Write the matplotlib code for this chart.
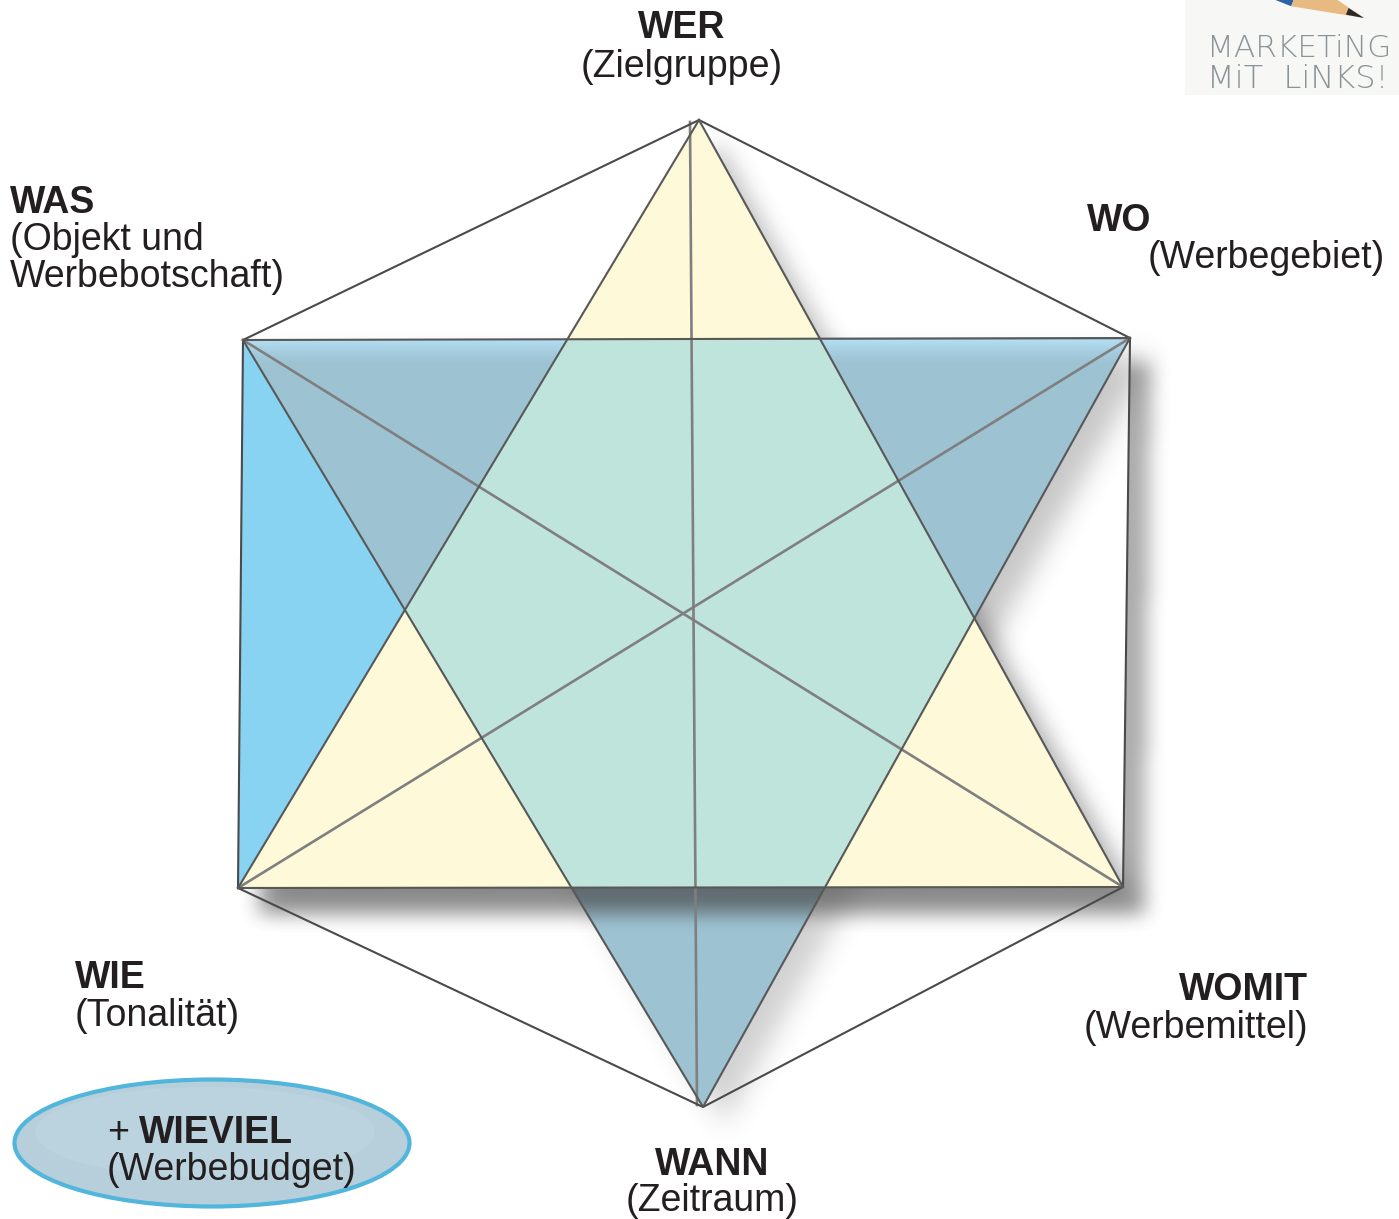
import numpy as np
import matplotlib
matplotlib.use("Agg")
from matplotlib import pyplot as plt
from matplotlib.patches import Polygon, Ellipse, Rectangle
from matplotlib.path import Path

W, H = 1399, 1219

# corner points of the diagram (pixel coords, y down)
top = (699, 120)
tl = (243, 340)
tr = (1130, 338)
bl = (238, 888)
br = (1123, 887)
bottom = (703, 1107)
axis_line = [(690, 122), (697, 1105)]

yellow_tri = [top, bl, br]
blue_tri = [tl, tr, bottom]
rect = [tl, tr, br, bl]
hexagon = [top, tr, br, bottom, bl, tl, top]

# labels: (bold, normal, x, baseline y of bold, baseline y of normal, x of normal, align)
labels = [
    ("WER", "(Zielgruppe)", 682, 38, 77, 682, "center"),
    ("WO", "(Werbegebiet)", 1087, 231, 268, 1148, "left"),
    ("WIE", "(Tonalität)", 75, 988, 1026, 75, "left"),
    ("WOMIT", "(Werbemittel)", 1308, 1000, 1038, 1308, "right"),
    ("WANN", "(Zeitraum)", 712, 1175, 1211, 712, "center"),
]
was_lines = ["(Objekt und", "Werbebotschaft)"]

C_YELLOW = "#fef9d8"
C_MINT = "#bfe4dc"
C_BLUE = "#9dc3d3"
C_BRIGHT = "#88d3f2"
C_TEXT = "#231f20"


def intersect(p1, p2, p3, p4):
    x1, y1 = p1; x2, y2 = p2; x3, y3 = p3; x4, y4 = p4
    d = (x1 - x2) * (y3 - y4) - (y1 - y2) * (x3 - x4)
    t = ((x1 - x3) * (y3 - y4) - (y1 - y3) * (x3 - x4)) / d
    return (x1 + t * (x2 - x1), y1 + t * (y2 - y1))


def box(a, r, axis):
    a = np.moveaxis(a, axis, 0)
    pad = np.pad(a, ((r + 1, r),) + ((0, 0),) * (a.ndim - 1), mode="edge")
    c = np.cumsum(pad, axis=0)
    out = (c[2 * r + 1:] - c[:-2 * r - 1]) / (2 * r + 1)
    return np.moveaxis(out, 0, axis)


ys, xs = np.mgrid[0:H:2, 0:W:2] + 1
pts = np.column_stack([xs.ravel(), ys.ravel()])


def shadow(ax, polys, dx, dy, r, alpha, z, clip=None, grey=0.28):
    m = np.zeros(len(pts), bool)
    for p in polys:
        m |= Path(np.array(p, float) + [dx, dy]).contains_points(pts)
    m = m.reshape(xs.shape).astype(float)
    for _ in range(3):
        m = box(m, r, 0)
        m = box(m, r, 1)
    rgba = np.zeros(m.shape + (4,))
    rgba[..., :3] = grey
    rgba[..., 3] = m * alpha
    im = ax.imshow(rgba, extent=(0, W, H, 0), zorder=z, interpolation="bilinear", aspect="auto")
    if clip is not None:
        im.set_clip_path(clip)
    return im


fig = plt.figure(figsize=(W / 100, H / 100), dpi=100)
ax = fig.add_axes([0, 0, 1, 1])
ax.set_xlim(0, W)
ax.set_ylim(H, 0)
ax.axis("off")

# shadows on the white page
shadow(ax, [rect], 22, 26, 4, 0.45, 1)
shadow(ax, [yellow_tri], 20, 22, 5, 0.35, 1)
shadow(ax, [blue_tri], 22, 18, 6, 0.25, 1)

# blue triangle, with the rectangle's shadow falling on its lower tip
blue_full = Polygon(blue_tri, closed=True, fc=C_BLUE, ec="none", zorder=2)
ax.add_patch(blue_full)
shadow(ax, [rect, yellow_tri], 22, 26, 4, 0.7, 3, clip=blue_full)

# white rectangle and the shadows cast on it
rect_patch = Polygon(rect, closed=True, fc="white", ec="none", zorder=4)
ax.add_patch(rect_patch)
shadow(ax, [blue_tri], 22, 18, 6, 0.3, 5, clip=rect_patch)
shadow(ax, [yellow_tri], 18, 18, 5, 0.45, 5, clip=rect_patch)

# coloured areas
ax.add_patch(Polygon(yellow_tri, closed=True, fc=C_YELLOW, ec="none", zorder=6))
p_left = intersect(tl, bottom, bl, top)
ax.add_patch(Polygon([tl, bl, p_left], closed=True, fc=C_BRIGHT, ec="none", zorder=6))
blue_in = Polygon(blue_tri, closed=True, fc=C_BLUE, ec="none", zorder=6.1)
ax.add_patch(blue_in)
blue_in.set_clip_path(rect_patch)

# light top band fading downwards
g = np.linspace(1, 0, 40) ** 1.5
band = np.zeros((40, 2, 4))
band[..., 0] = 0.72
band[..., 1] = 0.89
band[..., 2] = 0.97
band[..., 3] = (0.85 * g)[:, None]
im = ax.imshow(band, extent=(tl[0], tr[0], tl[1] + 26, tl[1]), zorder=6.2,
               interpolation="bilinear", aspect="auto")
im.set_clip_path(blue_in)

yel_clip = Polygon(yellow_tri, closed=True, fc="none", ec="none", zorder=0)
ax.add_patch(yel_clip)
mint = Polygon(blue_tri, closed=True, fc=C_MINT, ec="none", zorder=6.3)
ax.add_patch(mint)
mint.set_clip_path(yel_clip)

# outlines
hx, hy = zip(*hexagon)
ax.plot(hx, hy, color="#4a4a4a", lw=1.5, zorder=8)
for tri in (yellow_tri, blue_tri):
    t = tri + [tri[0]]
    tx, ty = zip(*t)
    ax.plot(tx, ty, color="#585858", lw=1.5, zorder=8)
for a, b in [(tl, br), (tr, bl), tuple(axis_line)]:
    ax.plot([a[0], b[0]], [a[1], b[1]], color="#7f7f7f", lw=1.9, zorder=7)

# labels
fs = 27
for bold, normal, x, yb, yn, xn, ha in labels:
    ax.text(x, yb, bold, fontsize=fs, fontweight="bold", ha=ha, va="baseline",
            family="Liberation Sans", color=C_TEXT, zorder=10)
    ax.text(xn, yn, normal, fontsize=fs, ha=ha, va="baseline",
            family="Liberation Sans", color=C_TEXT, zorder=10)
ax.text(10, 213, "WAS", fontsize=fs, fontweight="bold", va="baseline",
        family="Liberation Sans", color=C_TEXT, zorder=10)
for i, s in enumerate(was_lines):
    ax.text(10, 250 + 37 * i, s, fontsize=fs, va="baseline",
            family="Liberation Sans", color=C_TEXT, zorder=10)

# WIEVIEL ellipse
ax.add_patch(Ellipse((212, 1143), 395, 127, fc="#b6cfdb", ec="#52b5dc", lw=3, zorder=9))
ax.add_patch(Ellipse((205, 1132), 340, 90, fc="#c0d7e1", ec="none", zorder=9, alpha=0.5))
ax.text(107, 1143, "+", fontsize=fs, va="baseline", family="Liberation Sans",
        color=C_TEXT, zorder=10)
ax.text(139, 1143, "WIEVIEL", fontsize=fs, fontweight="bold", va="baseline",
        family="Liberation Sans", color=C_TEXT, zorder=10)
ax.text(107, 1180, "(Werbebudget)", fontsize=fs, va="baseline",
        family="Liberation Sans", color=C_TEXT, zorder=10)

# logo corner
ax.add_patch(Rectangle((1185, 0), 214, 95, fc="#f7f7f6", ec="none", zorder=9))
tip = np.array([1364.0, 18.0])
u = np.array([-0.93, -0.37]); u /= np.linalg.norm(u)
n = np.array([-u[1], u[0]])
base = tip + 72 * u
ax.add_patch(Polygon([base + 16 * n + 80 * u, base - 16 * n + 80 * u, base - 16 * n, base + 16 * n],
                     closed=True, fc="#2d62a6", ec="none", zorder=10))
ax.add_patch(Polygon([tip, base + 16 * n, base - 16 * n], closed=True, fc="#e9b982", ec="none", zorder=10))
ax.add_patch(Polygon([tip, tip + 18 * u + 3.6 * n, tip + 18 * u - 3.6 * n], closed=True,
                     fc="#2a2a2a", ec="none", zorder=11))
ax.text(1207, 57, "MARKETiNG", fontsize=22.5, color="#8a9498", va="baseline",
        family="DejaVu Sans", fontweight="light", zorder=11)
ax.text(1207, 88, "MiT  LiNKS!", fontsize=23, color="#8a9498", va="baseline",
        family="DejaVu Sans", fontweight="light", zorder=11)

ax.set_xlim(0, W)
ax.set_ylim(H, 0)
fig.savefig("out.png", dpi=100)
